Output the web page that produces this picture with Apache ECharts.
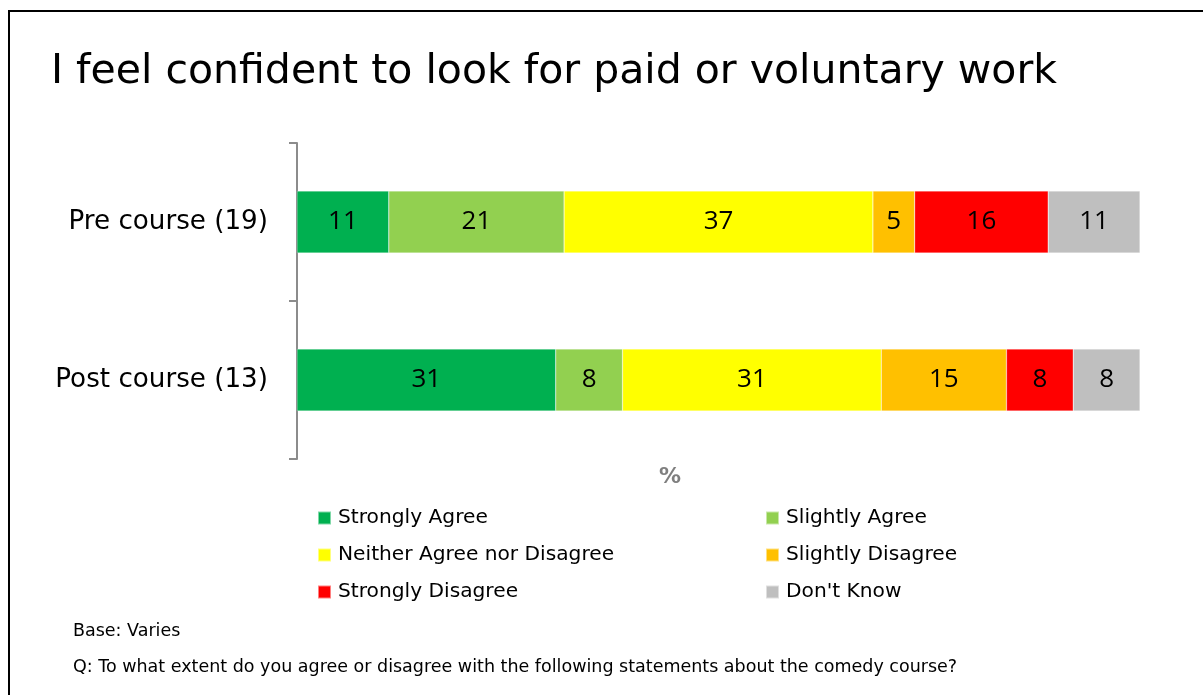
<!DOCTYPE html>
<html>
<head>
<meta charset="utf-8">
<script src="https://cdn.jsdelivr.net/npm/echarts@6/dist/echarts.min.js"></script>
<style>
html,body{margin:0;padding:0;background:#fff;}
#chart{width:1203px;height:695px;}
</style>
</head>
<body>
<div id="chart"></div>
<script>
var titleText = 'I feel confident to look for paid or voluntary work';
var categories = ['Pre course (19)', 'Post course (13)'];
var seriesNames = ['Strongly Agree', 'Slightly Agree', 'Neither Agree nor Disagree', 'Slightly Disagree', 'Strongly Disagree', "Don't Know"];
var stronglyAgree = [11, 31];
var slightlyAgree = [21, 8];
var neither = [37, 31];
var slightlyDisagree = [5, 15];
var stronglyDisagree = [16, 8];
var dontKnow = [11, 8];
var axisMax = 101;
var colors = ['#00B050', '#92D050', '#FFFF00', '#FFC000', '#FF0000', '#BFBFBF'];
var footBase = 'Base: Varies';
var footQ = 'Q: To what extent do you agree or disagree with the following statements about the comedy course?';

var values = [stronglyAgree, slightlyAgree, neither, slightlyDisagree, stronglyDisagree, dontKnow];
var FONT = 'DejaVu Sans';
var series = seriesNames.map(function (n, i) {
  return {
    name: n, type: 'bar', stack: 'total', data: values[i], barWidth: 62,
    itemStyle: { color: colors[i], borderColor: 'rgba(255,255,255,0.5)', borderWidth: 0.5 },
    label: { show: true, position: 'inside', color: '#000', fontSize: 26, fontFamily: 'Open Sans' }
  };
});

var legendText = { fontSize: 20.2, color: '#000', fontFamily: FONT, padding: [0, 0, 0, 2] };

var chart = echarts.init(document.getElementById('chart'), null, { renderer: 'canvas' });
chart.setOption({
  animation: false,
  backgroundColor: '#fff',
  title: {
    text: titleText, left: 46, top: 47,
    textStyle: { fontSize: 41, fontWeight: 'normal', color: '#000', fontFamily: FONT }
  },
  grid: { left: 297, right: 63, top: 143, bottom: 236, containLabel: false },
  xAxis: {
    type: 'value', min: 0, max: axisMax,
    axisLine: { show: false }, axisTick: { show: false }, axisLabel: { show: false }, splitLine: { show: false }
  },
  yAxis: {
    type: 'category', data: categories, inverse: true,
    axisLine: { show: true, lineStyle: { color: '#8C8C8C', width: 2 } },
    axisTick: { show: true, length: 8, lineStyle: { color: '#8C8C8C', width: 2 } },
    axisLabel: { color: '#000', fontSize: 26.2, fontFamily: FONT, margin: 29 }
  },
  legend: [
    {
      data: [seriesNames[0], seriesNames[2], seriesNames[4]], orient: 'vertical', left: 312, top: 503,
      itemWidth: 13, itemHeight: 13, icon: 'rect', itemGap: 17,
      textStyle: legendText
    },
    {
      data: [seriesNames[1], seriesNames[3], seriesNames[5]], orient: 'vertical', left: 760, top: 503,
      itemWidth: 13, itemHeight: 13, icon: 'rect', itemGap: 17,
      textStyle: legendText
    }
  ],
  graphic: [
    { type: 'rect', shape: { x: 9, y: 11, width: 1400, height: 900 }, style: { fill: 'none', stroke: '#000', lineWidth: 2 }, silent: true },
    { type: 'text', x: 670, y: 477, style: { text: '%', fontSize: 22, fontWeight: 'bold', fill: '#7F7F7F', fontFamily: FONT, align: 'center', verticalAlign: 'middle' } },
    { type: 'text', x: 73, y: 631, style: { text: footBase, fontSize: 17.5, fill: '#000', fontFamily: FONT, verticalAlign: 'middle' } },
    { type: 'text', x: 73, y: 667, style: { text: footQ, fontSize: 17.5, fill: '#000', fontFamily: FONT, verticalAlign: 'middle' } }
  ],
  series: series
});
</script>
</body>
</html>
